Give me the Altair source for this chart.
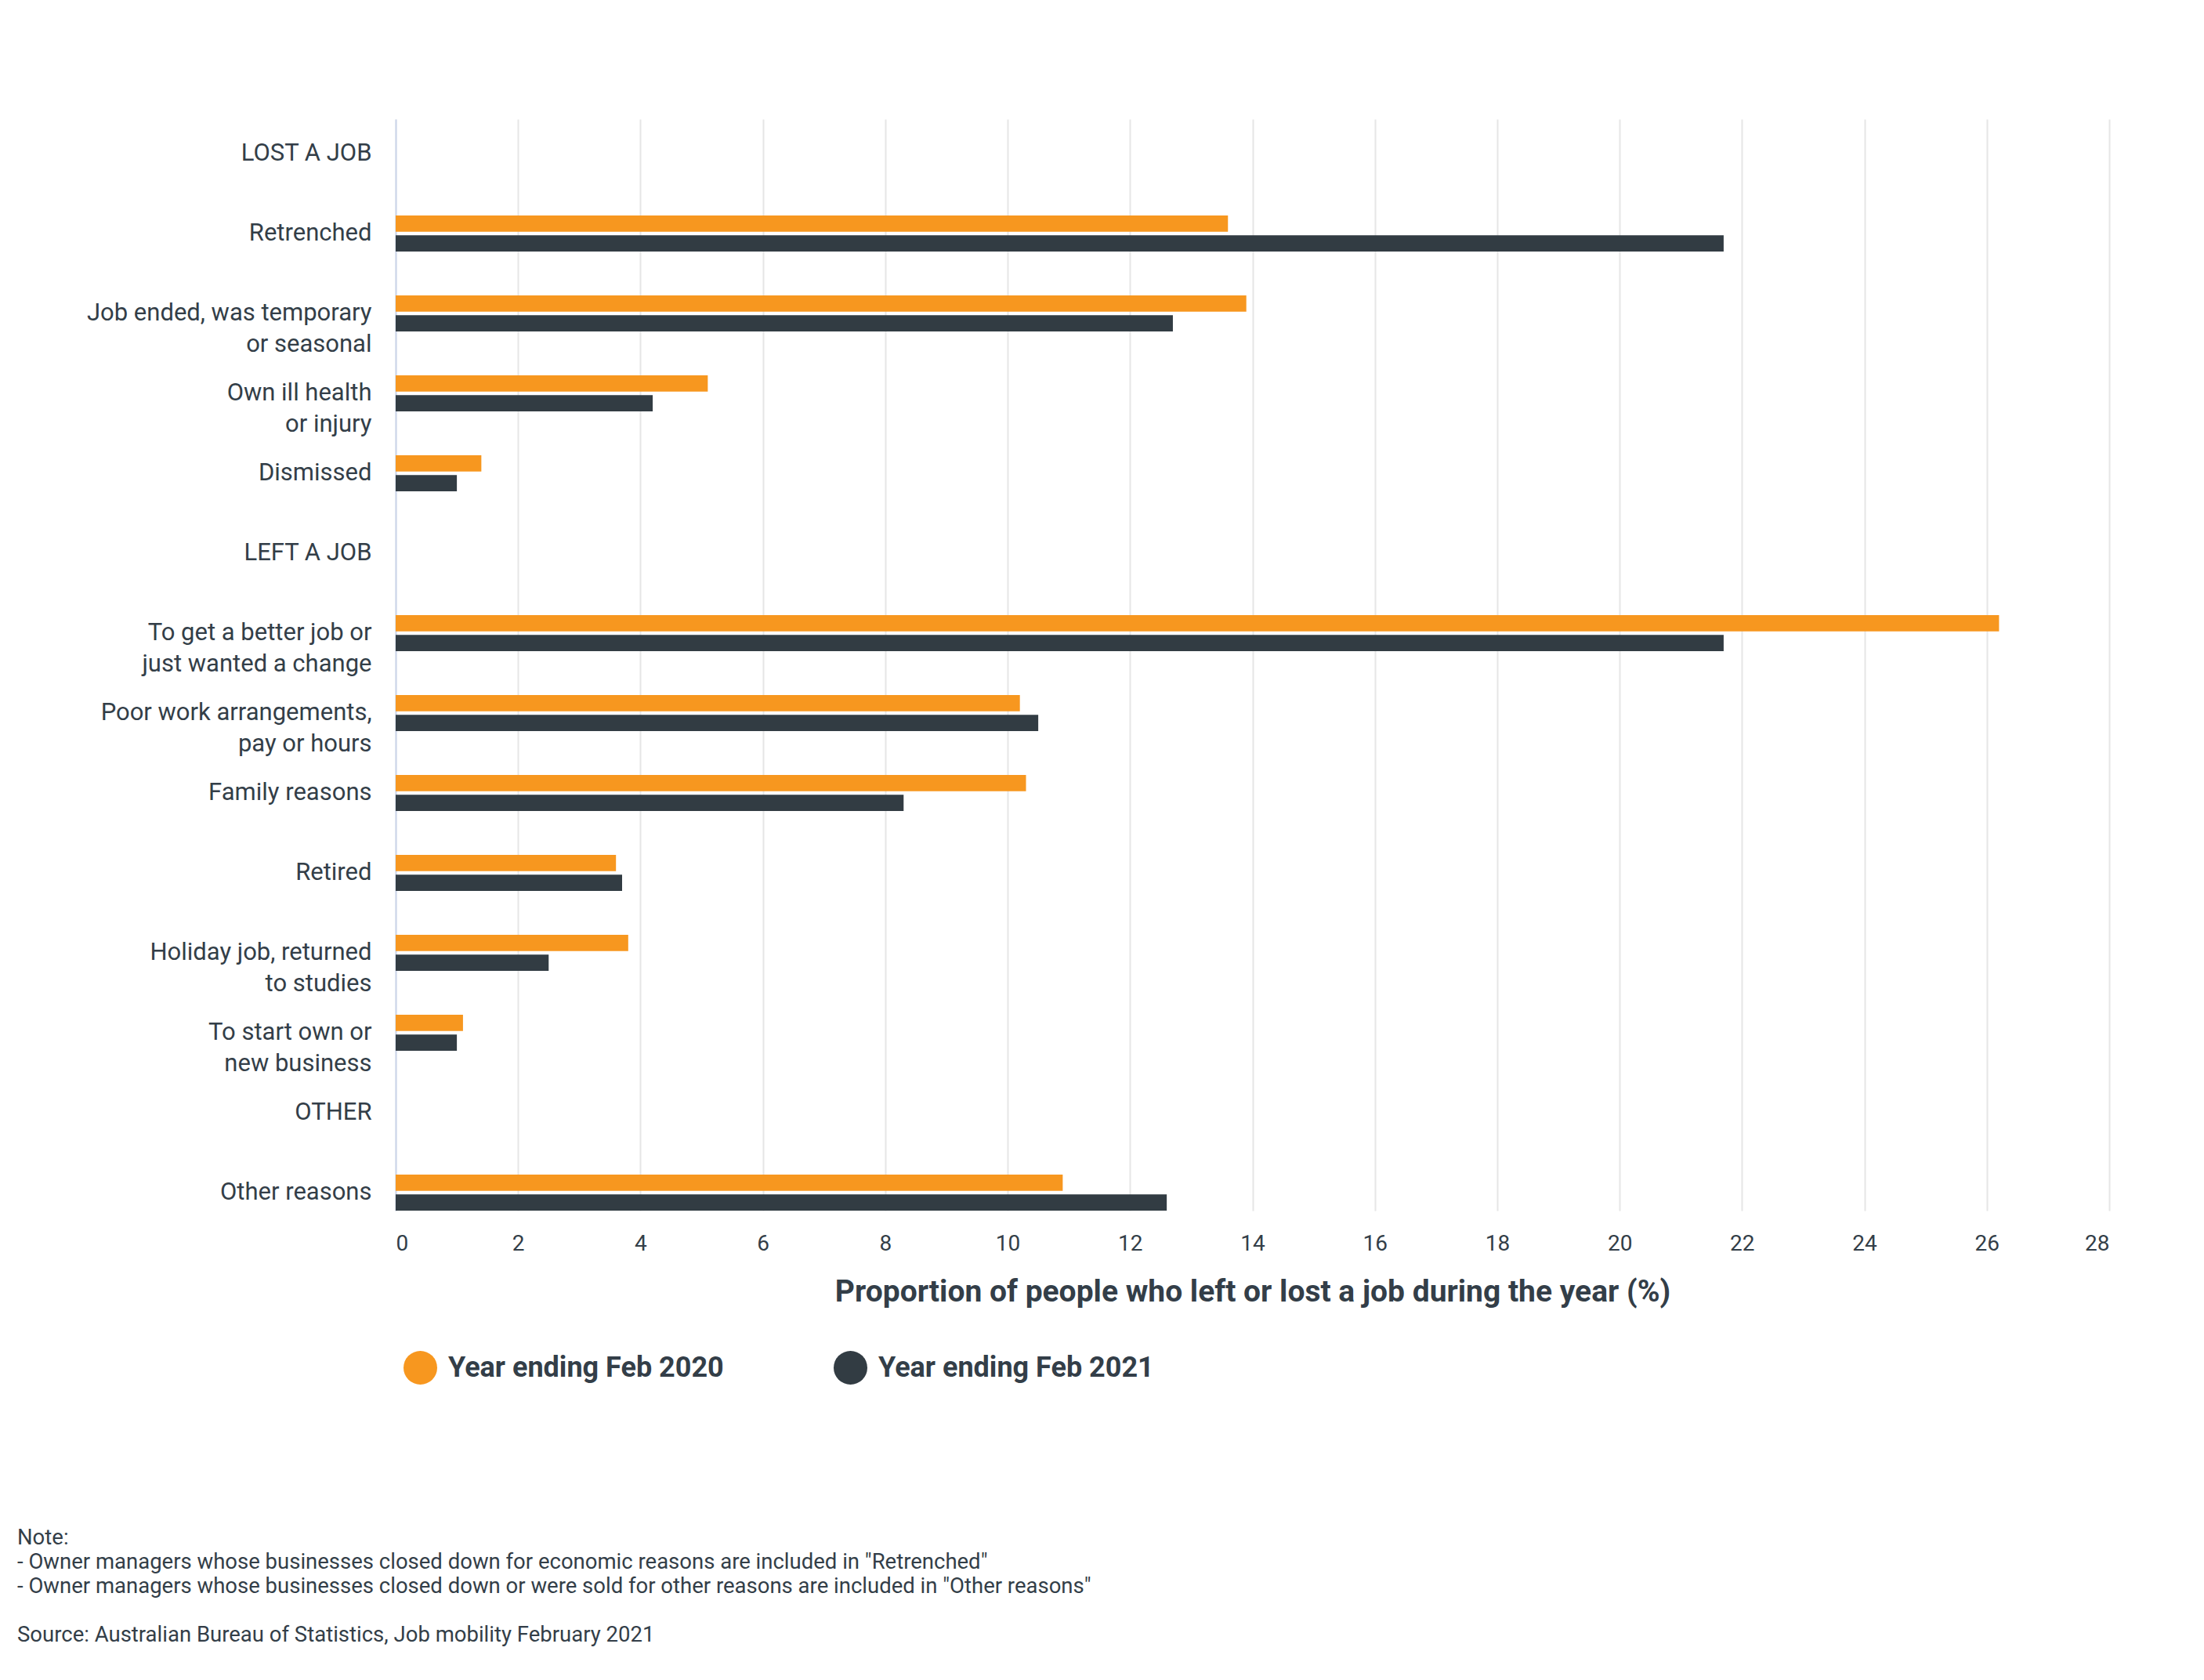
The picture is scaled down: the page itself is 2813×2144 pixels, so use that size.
import altair as alt
import pandas as pd

CATEGORIES = [
    "LOST A JOB",
    "Retrenched",
    "Job ended, was temporary\nor seasonal",
    "Own ill health\nor injury",
    "Dismissed",
    "LEFT A JOB",
    "To get a better job or\njust wanted a change",
    "Poor work arrangements,\npay or hours",
    "Family reasons",
    "Retired",
    "Holiday job, returned\nto studies",
    "To start own or\nnew business",
    "OTHER",
    "Other reasons",
]

BAR_CATEGORIES = [
    "Retrenched",
    "Job ended, was temporary\nor seasonal",
    "Own ill health\nor injury",
    "Dismissed",
    "To get a better job or\njust wanted a change",
    "Poor work arrangements,\npay or hours",
    "Family reasons",
    "Retired",
    "Holiday job, returned\nto studies",
    "To start own or\nnew business",
    "Other reasons",
]

SERIES = ["Year ending Feb 2020", "Year ending Feb 2021"]
VALUES_2020 = [13.6, 13.9, 5.1, 1.4, 26.2, 10.2, 10.3, 3.6, 3.8, 1.1, 10.9]
VALUES_2021 = [21.7, 12.7, 4.2, 1.0, 21.7, 10.5, 8.3, 3.7, 2.5, 1.0, 12.6]

X_TICKS = [0, 2, 4, 6, 8, 10, 12, 14, 16, 18, 20, 22, 24, 26, 28]
X_TITLE = "Proportion of people who left or lost a job during the year (%)"

NOTE_LINES = [
    "Note:",
    '- Owner managers whose businesses closed down for economic reasons are included in "Retrenched"',
    '- Owner managers whose businesses closed down or were sold for other reasons are included in "Other reasons"',
]
SOURCE_LINE = "Source: Australian Bureau of Statistics, Job mobility February 2021"

ORANGE = "#f7971f"
DARK = "#323c43"
TEXT = "#333e48"
FONT = "Roboto"

rows = []
for cat, v in zip(BAR_CATEGORIES, VALUES_2020):
    rows.append({"category": cat, "series": SERIES[0], "value": v})
for cat, v in zip(BAR_CATEGORIES, VALUES_2021):
    rows.append({"category": cat, "series": SERIES[1], "value": v})
df = pd.DataFrame(rows)

bars = alt.Chart(df).mark_bar().encode(
    y=alt.Y(
        "category:N",
        sort=CATEGORIES,
        scale=alt.Scale(domain=CATEGORIES, paddingInner=0.55, paddingOuter=0.103, align=1),
        axis=alt.Axis(
            title=None,
            labelExpr="split(datum.label, '\\n')",
            labelFont=FONT,
            labelFontSize=31,
            labelLineHeight=40,
            labelPadding=31,
            labelColor=TEXT,
            labelLimit=0,
            ticks=False,
            grid=False,
            domainColor="#ccd6eb",
            domainWidth=2,
        ),
    ),
    yOffset=alt.YOffset(
        "series:N",
        sort=SERIES,
        scale=alt.Scale(domain=SERIES, paddingInner=0.18),
    ),
    x=alt.X(
        "value:Q",
        scale=alt.Scale(domain=[0, 28], nice=False),
        axis=alt.Axis(
            values=X_TICKS,
            title=X_TITLE,
            grid=True,
            gridColor="#e6e6e6",
            gridWidth=2,
            domain=False,
            ticks=False,
            labelFont=FONT,
            labelFontSize=28,
            labelPadding=28,
            labelColor=TEXT,
            titleFont=FONT,
            titleFontSize=39,
            titleFontWeight="bold",
            titleColor=TEXT,
            titlePadding=28,
        ),
    ),
    color=alt.Color(
        "series:N",
        sort=SERIES,
        scale=alt.Scale(domain=SERIES, range=[ORANGE, DARK]),
        legend=alt.Legend(
            title=None,
            orient="none",
            legendX=10,
            legendY=1572,
            direction="horizontal",
            symbolType="circle",
            symbolSize=1849,
            symbolStrokeWidth=0,
            symbolOpacity=1,
            labelFont=FONT,
            labelFontSize=36,
            labelFontWeight="bold",
            labelColor=TEXT,
            labelOffset=14,
            columnPadding=140,
            padding=0,
            labelLimit=0,
        ),
    ),
)

notes = alt.Chart(pd.DataFrame({"k": [0]})).mark_text(
    text=NOTE_LINES,
    align="left",
    baseline="top",
    font=FONT,
    fontSize=27.5,
    lineHeight=31,
    color=TEXT,
).encode(x=alt.value(-483), y=alt.value(1797))

source = alt.Chart(pd.DataFrame({"k": [0]})).mark_text(
    text=SOURCE_LINE,
    align="left",
    baseline="top",
    font=FONT,
    fontSize=27.5,
    color=TEXT,
).encode(x=alt.value(-483), y=alt.value(1921))

chart = alt.layer(bars, notes, source).properties(
    width=2187,
    height=1393,
    padding={"left": 497, "top": 144, "right": 110, "bottom": 580},
    autosize=alt.AutoSizeParams(type="none"),
).configure_view(stroke=None)

chart.save("out.html", embed_options={"renderer": "svg", "actions": False})
